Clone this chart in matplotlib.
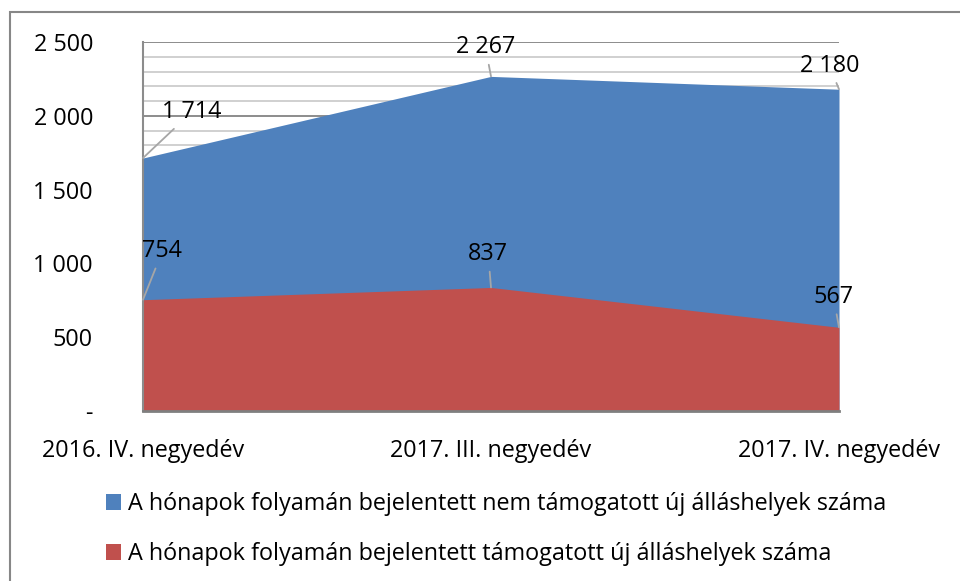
import numpy as np
import matplotlib.pyplot as plt
from matplotlib.ticker import FuncFormatter, MultipleLocator
from matplotlib.patches import Rectangle

# adatok
negyedevek = ['2016. IV. negyedév', '2017. III. negyedév', '2017. IV. negyedév']
nem_tamogatott = [1714, 2267, 2180]
tamogatott = [754, 837, 567]
sorozat_nevek = ['A hónapok folyamán bejelentett nem támogatott új álláshelyek száma',
                 'A hónapok folyamán bejelentett támogatott új álláshelyek száma']
# cimke eltolasok (pont)
offs_kek = [(35, 33), (-4, 21), (-7, 17)]
offs_piros = [(14, 35), (-2, 24), (-4, 22)]

plt.rcParams['font.family'] = ['Open Sans', 'DejaVu Sans']
plt.rcParams['font.size'] = 16.8

kek = '#4F81BD'
piros = '#C0504D'

fig = plt.figure(figsize=(9.6, 5.81), dpi=100)
ax = fig.add_axes([143/960, 1 - 411/581, (839-143)/960, (411-42)/581])

x = np.arange(len(negyedevek))
h1 = ax.fill_between(x, 0, nem_tamogatott, color=kek, lw=0, zorder=2)
h2 = ax.fill_between(x, 0, tamogatott, color=piros, lw=0, zorder=3)

ax.set_xlim(0, len(negyedevek) - 1)
ax.set_ylim(0, 2500)
ax.yaxis.set_major_locator(MultipleLocator(500))
ax.yaxis.set_minor_locator(MultipleLocator(100))
ax.grid(axis='y', which='minor', color='#C8C8C8', lw=1.2, zorder=0)
ax.grid(axis='y', which='major', color='#8C8C8C', lw=1.4, zorder=1)

def fmt(v, pos):
    if v == 0:
        return '-'
    return f'{int(v):,}'.replace(',', ' ')

ax.yaxis.set_major_formatter(FuncFormatter(fmt))
ax.tick_params(axis='y', which='both', length=0, pad=36)
ax.set_xticks(x)
ax.set_xticklabels(negyedevek)
ax.tick_params(axis='x', length=0, pad=20)

for s in ['top', 'right']:
    ax.spines[s].set_visible(False)
ax.spines['left'].set_color('#8C8C8C')
ax.spines['left'].set_linewidth(1.5)
ax.spines['bottom'].set_color('#7F7F7F')
ax.spines['bottom'].set_linewidth(2)
ax.spines['left'].set_zorder(5)
ax.spines['bottom'].set_zorder(5)

lead = dict(arrowstyle='-', color='#A6A6A6', lw=1.3, shrinkA=2, shrinkB=0)
for i in range(len(x)):
    ax.annotate(fmt(nem_tamogatott[i], 0), (x[i], nem_tamogatott[i]), xytext=offs_kek[i],
                textcoords='offset points', ha='center', va='center',
                arrowprops=lead, annotation_clip=False, zorder=6)
    ax.annotate(fmt(tamogatott[i], 0), (x[i], tamogatott[i]), xytext=offs_piros[i],
                textcoords='offset points', ha='center', va='center',
                arrowprops=lead, annotation_clip=False, zorder=6)

fig.legend([h1, h2], sorozat_nevek, loc='upper left', bbox_to_anchor=(106/960, 1 - 492/581),
           frameon=False, handlelength=0.64, handleheight=0.64, handletextpad=0.3,
           labelspacing=1.12, borderaxespad=0, borderpad=0)

# kulso keret
fig.patches.append(Rectangle((10/960, -0.1), 1.2, 1 - 12/581 + 0.1, transform=fig.transFigure,
                             fill=False, edgecolor='#878787', lw=1.5))

fig.savefig('out.png', dpi=100)
